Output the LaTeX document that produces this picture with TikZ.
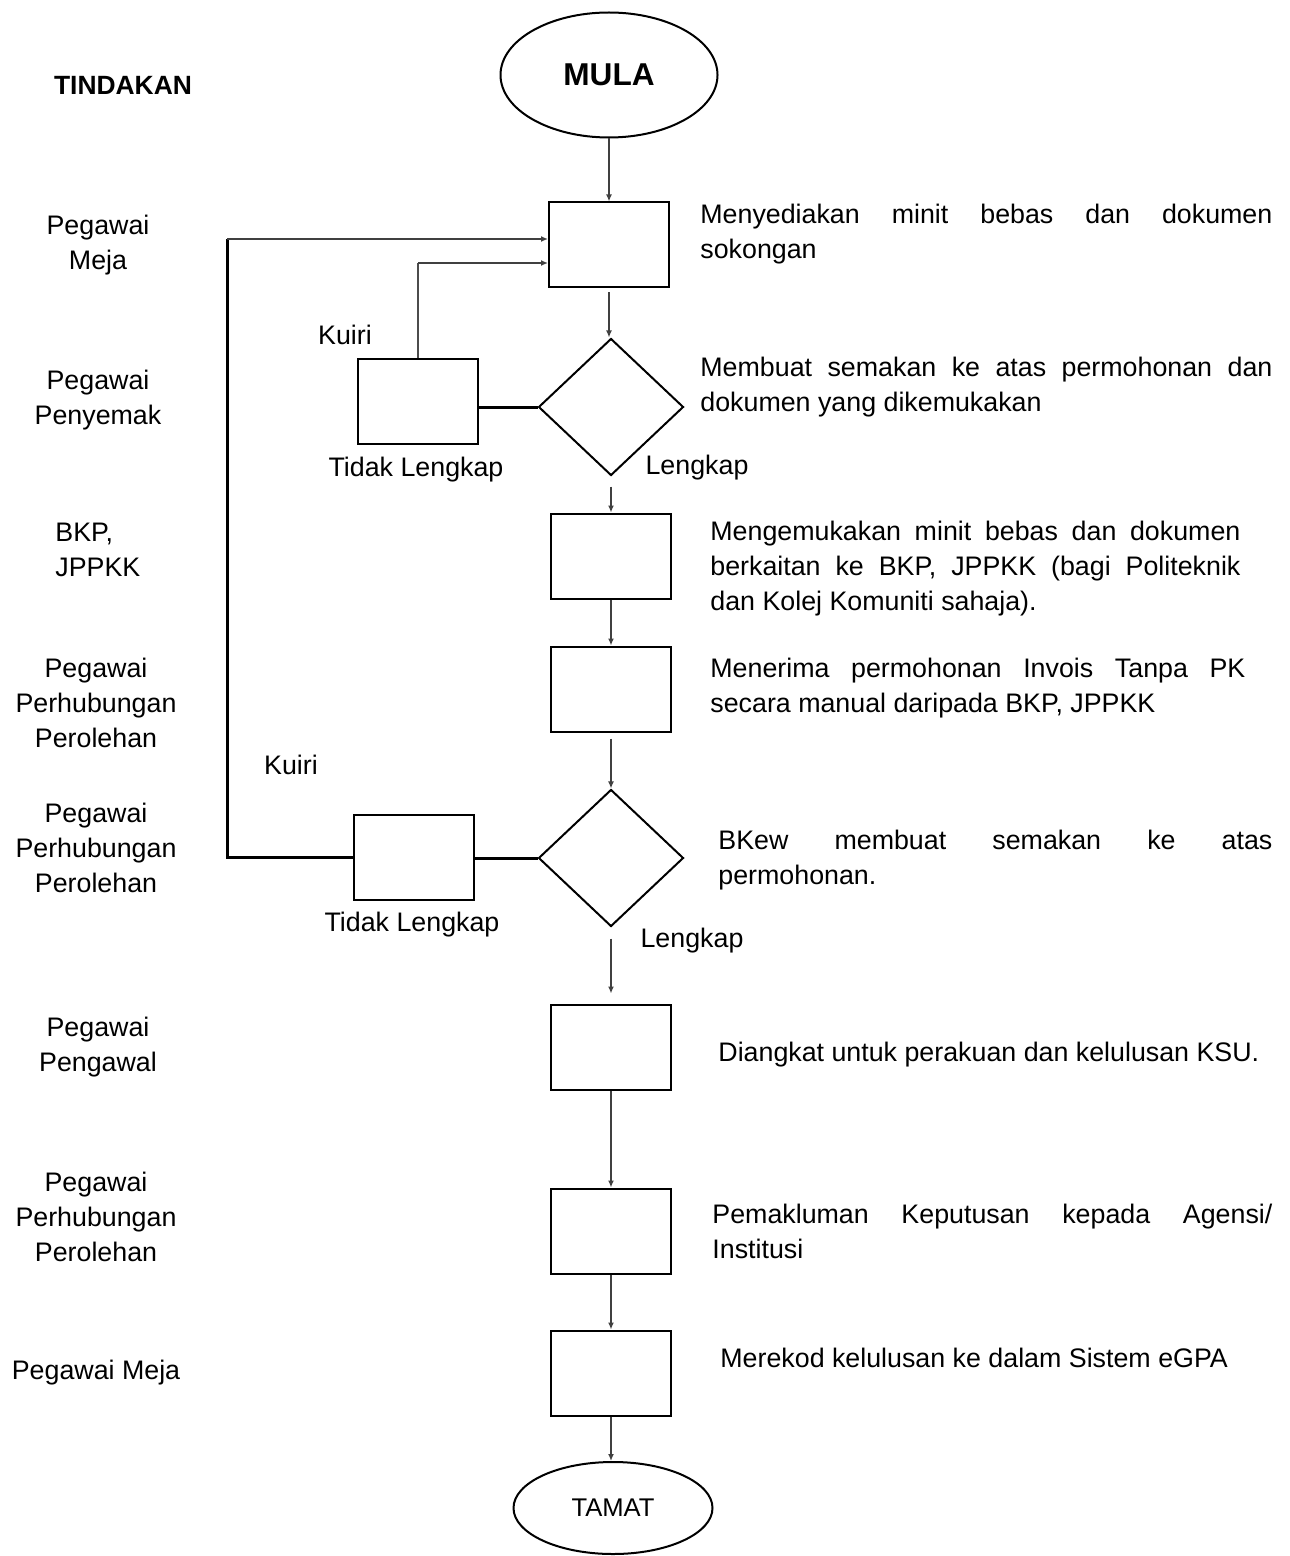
\documentclass[tikz,border=0pt]{standalone}
\usepackage{fontspec}
\setmainfont{Liberation Sans}
\usetikzlibrary{shapes.geometric,arrows.meta}
\newcommand\teks{\fontsize{13.4}{17.5}\selectfont}
\tikzset{
  langkah/.style={draw, line width=1pt, minimum width=60pt, minimum height=42.5pt, inner sep=0pt},
  semak/.style={draw, diamond, line width=1pt, minimum width=72.5pt, minimum height=68.5pt, inner sep=0pt},
  hujung/.style={draw, ellipse, line width=1pt, inner sep=0pt},
  alir/.style={-{Latex[length=3.5pt,width=3pt]}, line width=0.7pt, draw=black!75},
  balik/.style={line width=1.5pt},
  ket/.style={align=justify, anchor=base west, inner sep=0pt, font=\teks},
  peg/.style={align=center, inner sep=0pt, font=\teks},
}

\begin{document}
\begin{tikzpicture}[x=0.5pt, y=-0.5pt]
      \useasboundingbox (0,0) rectangle (1289,1556);

      % carta alir
      \node [hujung, minimum width=108.5pt, minimum height=62.5pt, font=\fontsize{15.8}{18}\selectfont\bfseries] (mula) at (609, 75) {MULA};
      \node [langkah] (minit) at (609, 245) {};
      \node [semak] (semak1) at (611, 407) {};
      \node [langkah] (kuiri1) at (418, 401) {};
      \node [langkah] (hantar) at (611, 556) {};
      \node [langkah] (terima) at (611, 689) {};
      \node [semak] (semak2) at (611, 858) {};
      \node [langkah] (kuiri2) at (414, 857) {};
      \node [langkah] (angkat) at (611, 1047) {};
      \node [langkah] (maklum) at (611, 1231) {};
      \node [langkah] (rekod) at (611, 1373) {};
      \node [hujung, minimum width=99.5pt, minimum height=46pt, font=\fontsize{12.8}{15}\selectfont] (tamat) at (613, 1508) {TAMAT};

      \draw [alir] (mula) -- (minit);
      \draw [alir, shorten <=2pt] (minit.south) -- (minit.south |- semak1.north);
      \draw [alir, shorten <=5pt] (semak1) -- (hantar);
      \draw [alir] (hantar) -- (terima);
      \draw [alir, shorten <=3pt] (terima) -- (semak2);
      \draw [alir, shorten <=5.5pt, shorten >=5pt] (semak2) -- (angkat);
      \draw [alir] (angkat) -- (maklum);
      \draw [alir] (maklum) -- (rekod);
      \draw [alir] (rekod.south) -- (rekod.south |- tamat.north);

      % kuiri
      \coordinate (q1) at (227, 239);
      \coordinate (q2) at (418, 263);
      \draw [balik] (semak1.west) -- (semak1.west -| kuiri1.east);
      \draw [balik] (semak2.west) -- (semak2.west -| kuiri2.east);
      \draw [line width=0.8pt, draw=black!70] (kuiri1.north) -- (q2);
      \draw [alir, line width=1.1pt] (q2) -- (q2 -| minit.west);
      \draw [balik] (kuiri2.west) -- (kuiri2.west -| q1) -- (q1);
      \draw [alir, line width=1.2pt] (q1) -- (q1 -| minit.west);

      \node [peg] (k1) at (345, 335) {Kuiri};
      \node [peg] (t1) at (416, 470) {Tidak Lengkap};
      \node [peg] (l1) at (697, 468) {Lengkap};
      \node [peg] (k2) at (291, 765) {Kuiri};
      \node [peg] (t2) at (412, 925) {Tidak Lengkap};
      \node [peg] (l2) at (692, 941) {Lengkap};

      % tindakan
      \node [peg, font=\fontsize{13.2}{17.5}\selectfont\bfseries] (tindakan) at (123, 85) {TINDAKAN};
      \node [peg] (p1) at (98, 245) {Pegawai\\Meja};
      \node [peg] (p2) at (98, 400) {Pegawai\\Penyemak};
      \node [peg, align=left, anchor=west] (p3) at (55, 550) {BKP,\\JPPKK};
      \node [peg] (p4) at (96, 703) {Pegawai\\Perhubungan\\Perolehan};
      \node [peg] (p5) at (96, 848) {Pegawai\\Perhubungan\\Perolehan};
      \node [peg] (p6) at (98, 1047) {Pegawai\\Pengawal};
      \node [peg] (p7) at (96, 1217) {Pegawai\\Perhubungan\\Perolehan};
      \node [peg] (p8) at (96, 1373) {Pegawai Meja};

      % keterangan
      \node [ket, text width=286pt] (d1) at (700, 224) {Menyediakan minit bebas dan dokumen\linebreak sokongan};
      \node [ket, text width=286pt] (d2) at (700, 376) {Membuat semakan ke atas permohonan dan\linebreak dokumen yang dikemukakan};
      \node [ket, text width=265pt] (d3) at (710, 540) {Mengemukakan minit bebas dan dokumen\linebreak berkaitan ke BKP, JPPKK (bagi Politeknik\linebreak dan Kolej Komuniti sahaja).};
      \node [ket, text width=267.5pt] (d4) at (710, 677) {Menerima permohonan Invois Tanpa PK\linebreak secara manual daripada BKP, JPPKK};
      \node [ket, text width=277pt] (d5) at (718, 849) {BKew membuat semakan ke atas\linebreak permohonan.};
      \node [ket] (d6) at (718, 1061) {Diangkat untuk perakuan dan kelulusan KSU.};
      \node [ket, text width=280pt] (d7) at (712, 1223) {Pemakluman Keputusan kepada Agensi/\linebreak Institusi};
      \node [ket] (d8) at (720, 1367) {Merekod kelulusan ke dalam Sistem eGPA};
    \end{tikzpicture}
\end{document}
